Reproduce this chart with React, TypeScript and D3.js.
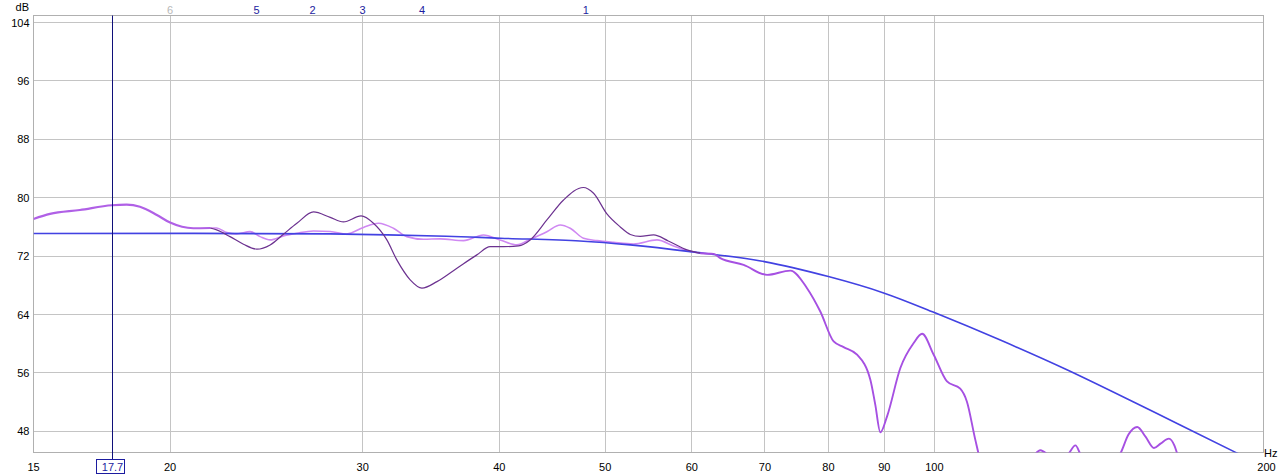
import React from 'react';
import * as d3 from 'd3';

const W = 1288;
const H = 475;

const FREQ_LABELS = [15, 20, 30, 40, 50, 60, 70, 80, 90, 100, 200];
const FREQ_GRID = [20, 30, 40, 50, 60, 70, 80, 90, 100];
const DB_TICKS = [104, 96, 88, 80, 72, 64, 56, 48];
const MARKER_LABELS = ['6', '5', '2', '3', '4', '1'];
const MARKER_FREQS = [20, 24, 27, 30, 34, 48];
const MARKER_ACTIVE = [false, true, true, true, true, true];
const CURSOR_FREQ = 17.7;

// Target curve (blue)
const targetHz = [15, 28, 35.8, 40.1, 47.4, 52.7, 59.8, 69.9, 80, 90, 100, 114.9, 132.2, 160, 188.6, 200];
const targetDb = [75.1, 75.05, 74.73, 74.45, 74.08, 73.54, 72.62, 71.25, 69.2, 66.93, 64.27, 60.5, 56.43, 50.4, 45.12, 43.2];

// Region where both measurements coincide (low end)
const sharedLowHz = [15, 15.53, 16.54, 17.69, 18.25, 18.77, 19.45, 20.0, 21.0, 21.76];
const sharedLowDb = [77.09, 77.78, 78.32, 78.97, 79.05, 78.77, 77.64, 76.59, 75.82, 75.85];

// Dark measurement
const darkHz = [21.76, 22.06, 22.69, 23.34, 24.01, 24.69, 25.39, 26.12, 27.05, 28.02, 28.81, 29.9, 30.69, 31.57, 32.24, 33.16, 33.99, 35.08, 36.59, 38.16, 39.24, 40.36, 41.66, 42.69, 44.22, 45.8, 47.74, 48.79, 50.18, 51.61, 52.71, 53.83, 55.36, 57.1, 59.4, 61.08];
const darkDb = [75.85, 75.59, 74.67, 73.63, 72.95, 73.53, 75.0, 76.5, 78.05, 77.3, 76.68, 77.5, 76.5, 74.22, 71.48, 68.75, 67.61, 68.51, 70.35, 72.17, 73.3, 73.3, 73.4, 74.22, 76.95, 79.69, 81.4, 80.61, 77.78, 76.0, 74.97, 74.7, 74.9, 74.08, 72.85, 72.4];

// Light measurement
const lightHz = [21.76, 22.06, 22.54, 23.01, 23.67, 24.17, 24.69, 25.39, 26.12, 27.05, 28.02, 29.02, 30.05, 31.02, 32.01, 32.93, 34.1, 35.32, 37.1, 38.69, 40.08, 41.51, 42.69, 44.22, 45.48, 46.45, 47.77, 49.14, 50.88, 53.08, 55.76, 57.74, 59.81, 61.08];
const lightDb = [75.85, 75.86, 75.22, 75.04, 75.35, 74.67, 74.22, 74.77, 75.14, 75.45, 75.38, 75.04, 75.93, 76.5, 75.82, 74.67, 74.31, 74.36, 74.12, 74.9, 74.22, 73.54, 74.31, 75.35, 76.27, 75.82, 74.45, 74.12, 73.88, 73.67, 74.22, 73.4, 72.62, 72.4];

// Region where both measurements coincide (high end)
const sharedHighHz = [61.08, 62.82, 63.71, 66.92, 70.3, 73.84, 76.48, 78.65, 80.89, 82.61, 84.98, 87.39, 88.3, 89.25, 90.52, 93.09, 95.74, 97.45, 99.86, 102.7, 105.6, 107.1, 109.0, 110.2, 115, 122, 123.7, 125.0, 126.7, 129, 132.6, 134.6, 136.0, 140, 145, 148.0, 150.5, 153.3, 156.0, 158.8, 161.0, 163.9, 165.8, 166.9, 172, 200];
const sharedHighDb = [72.4, 72.3, 71.72, 70.8, 69.43, 70.02, 67.61, 64.41, 60.31, 59.54, 58.49, 55.07, 51.65, 47.86, 50.05, 56.67, 60.09, 61.36, 58.49, 54.83, 53.84, 52.06, 46.86, 44.0, 40, 43.5, 44.9, 45.4, 44.9, 43.5, 44.9, 46.08, 44.9, 42.5, 43.5, 45.0, 47.55, 48.6, 47.27, 45.72, 46.31, 47.0, 46.04, 44.8, 40, 38];

const PL = 33.5, PR = 1263.5, PT = 15.5, PB = 452.5;

export default function App() {
  const x = d3.scaleLog().domain([15, 200]).range([PL, PR]);
  const y = d3.scaleLinear().domain([45.1, 104.96]).range([PB, PT]);
  const crisp = (v: number) => Math.round(v - 0.5) + 0.5;

  const mk = (hz: number[], db: number[], curve: d3.CurveFactory = d3.curveMonotoneX) =>
    d3.line<number>()
      .x((_, i) => x(hz[i]))
      .y((_, i) => y(db[i]))
      .curve(curve)(hz) || '';

  const font = '"Liberation Sans", Arial, sans-serif';
  const cx = crisp(x(CURSOR_FREQ));

  return (
    <svg width={W} height={H} style={{ position: 'absolute', left: 0, top: 0, background: '#fff' }} fontFamily={font} fontSize={11}>
      <defs>
        <clipPath id="plot">
          <rect x={PL} y={PT} width={PR - PL} height={PB - PT} />
        </clipPath>
      </defs>
      <rect x={0} y={0} width={W} height={H} fill="#fff" />
      {/* grid */}
      {FREQ_GRID.map((f) => (
        <line key={'v' + f} x1={crisp(x(f))} x2={crisp(x(f))} y1={PT} y2={PB} stroke="#c4c4c4" strokeWidth={1} />
      ))}
      {DB_TICKS.map((d) => (
        <line key={'h' + d} x1={PL} x2={PR} y1={crisp(y(d))} y2={crisp(y(d))} stroke="#c4c4c4" strokeWidth={1} />
      ))}
      <rect x={PL} y={PT} width={PR - PL} height={PB - PT} fill="none" stroke="#b0b0b0" strokeWidth={1} />

      {/* y labels */}
      {DB_TICKS.map((d) => (
        <text key={'yl' + d} x={29.5} y={y(d)} textAnchor="end" dominantBaseline="central" fill="#000">{d}</text>
      ))}
      <text x={29} y={11} textAnchor="end" fill="#000">dB</text>

      {/* x labels */}
      {FREQ_LABELS.map((f) => (
        <text key={'xl' + f} x={f === 200 ? x(f) + 3 : x(f)} y={470.5} textAnchor="middle" fill="#000">{f}</text>
      ))}
      <text x={1264} y={457} fill="#000">Hz</text>

      {/* markers */}
      {MARKER_LABELS.map((m, i) => (
        <text key={'m' + m} x={x(MARKER_FREQS[i])} y={13.5} textAnchor="middle" fill={MARKER_ACTIVE[i] ? '#1c1ca0' : '#b8b8b8'}>{m}</text>
      ))}

      {/* curves */}
      <g clipPath="url(#plot)" fill="none" strokeLinejoin="round">
        <path d={mk(lightHz, lightDb)} stroke="#cf88f2" strokeWidth={1.6} />
        <path d={mk(targetHz, targetDb, d3.curveCatmullRom.alpha(0.5))} stroke="#4242e2" strokeWidth={1.6} />
        <path d={mk(darkHz, darkDb)} stroke="#6c3290" strokeWidth={1.2} />
        <path d={mk(sharedLowHz, sharedLowDb)} stroke="#b060e6" strokeWidth={2.2} />
        <path d={mk(sharedHighHz, sharedHighDb)} stroke="#a650e2" strokeWidth={1.9} />
      </g>

      {/* cursor */}
      <line x1={cx} x2={cx} y1={PT} y2={459.5} stroke="#10107a" strokeWidth={1} />
      <rect x={96.5} y={459.5} width={28} height={14} fill="#fff" stroke="#1c1ca0" strokeWidth={1} />
      <text x={cx} y={470.5} textAnchor="middle" fill="#1c1ca0">{CURSOR_FREQ}</text>
    </svg>
  );
}
